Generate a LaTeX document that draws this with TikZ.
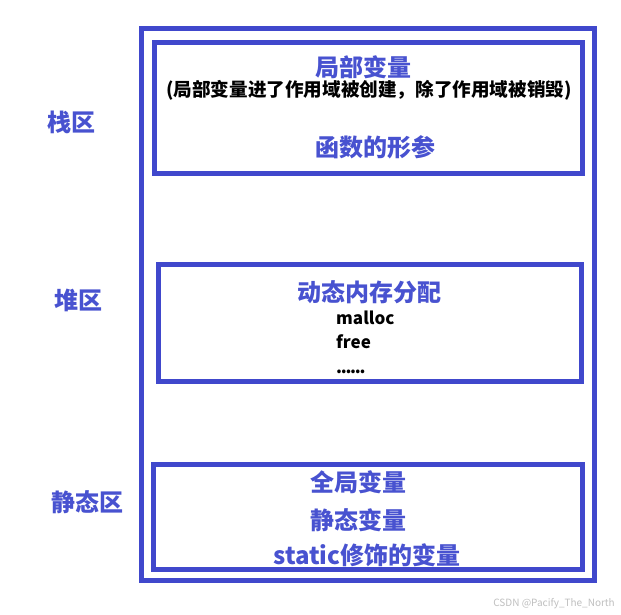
\documentclass[tikz,border=0pt]{standalone}
\usepackage{fontspec}
\setmainfont{Noto Sans CJK SC}
\definecolor{boxblue}{RGB}{64,72,204}
\definecolor{txtblue}{RGB}{72,82,208}
\tikzset{
  frame/.style={draw=boxblue, line width=5pt, inner sep=0pt, outer sep=0pt, anchor=north west},
  bluetxt/.style={text=txtblue, font=\bfseries\fontsize{24}{26}\selectfont, inner sep=0pt, anchor=center},
  blacktxt/.style={text=black, font=\bfseries\fontsize{18.6}{20}\selectfont, inner sep=0pt},
  codetxt/.style={text=black, font=\bfseries\fontsize{17}{20}\selectfont, inner sep=0pt, anchor=west},
}
\begin{document}
\begin{tikzpicture}[x=1pt,y=-1pt]
\useasboundingbox (0,0) rectangle (621,615);
\fill[white] (0,0) rectangle (621,615);
% outer frame
\node[frame, minimum width=453pt, minimum height=552pt] (outer) at (141.5,28.5) {};
% stack box
\node[frame, minimum width=428pt, minimum height=131pt] (stackbox) at (154.5,42.5) {};
% heap box
\node[frame, minimum width=423pt, minimum height=117pt] (heapbox) at (158.5,264.5) {};
% static box
\node[frame, minimum width=429pt, minimum height=105pt] (staticbox) at (153.5,464.5) {};
% left labels
\node[bluetxt] (lstack) at (71,122) {栈区};
\node[bluetxt] (lheap) at (78.5,300) {堆区};
\node[bluetxt] (lstatic) at (87,502) {静态区};
% stack contents
\node[bluetxt] (local) at (363,67) {局部变量};
\node[blacktxt] (localnote) at (369,90) {(局部变量进了作用域被创建，除了作用域被销毁)};
\node[bluetxt] (params) at (375,147) {函数的形参};
% heap contents
\node[bluetxt] (dyn) at (369,292) {动态内存分配};
\node[codetxt] (malloc) at (336,318) {malloc};
\node[codetxt] (free) at (336,342) {free};
\node[codetxt] (dots) at (336,372) {.\kern-1.3pt.\kern-1.3pt.\kern-1.3pt.\kern-1.3pt.\kern-1.3pt.};
% static contents
\node[bluetxt] (global) at (358,482) {全局变量};
\node[bluetxt] (staticvar) at (358,520) {静态变量};
\node[bluetxt] (staticmod) at (367,555) {static修饰的变量};
% watermark
\node[text=black!25, font=\fontsize{10}{12}\selectfont, anchor=east, inner sep=0pt] (wm) at (615,604) {CSDN @Pacify\_The\_North};
\end{tikzpicture}
\end{document}
